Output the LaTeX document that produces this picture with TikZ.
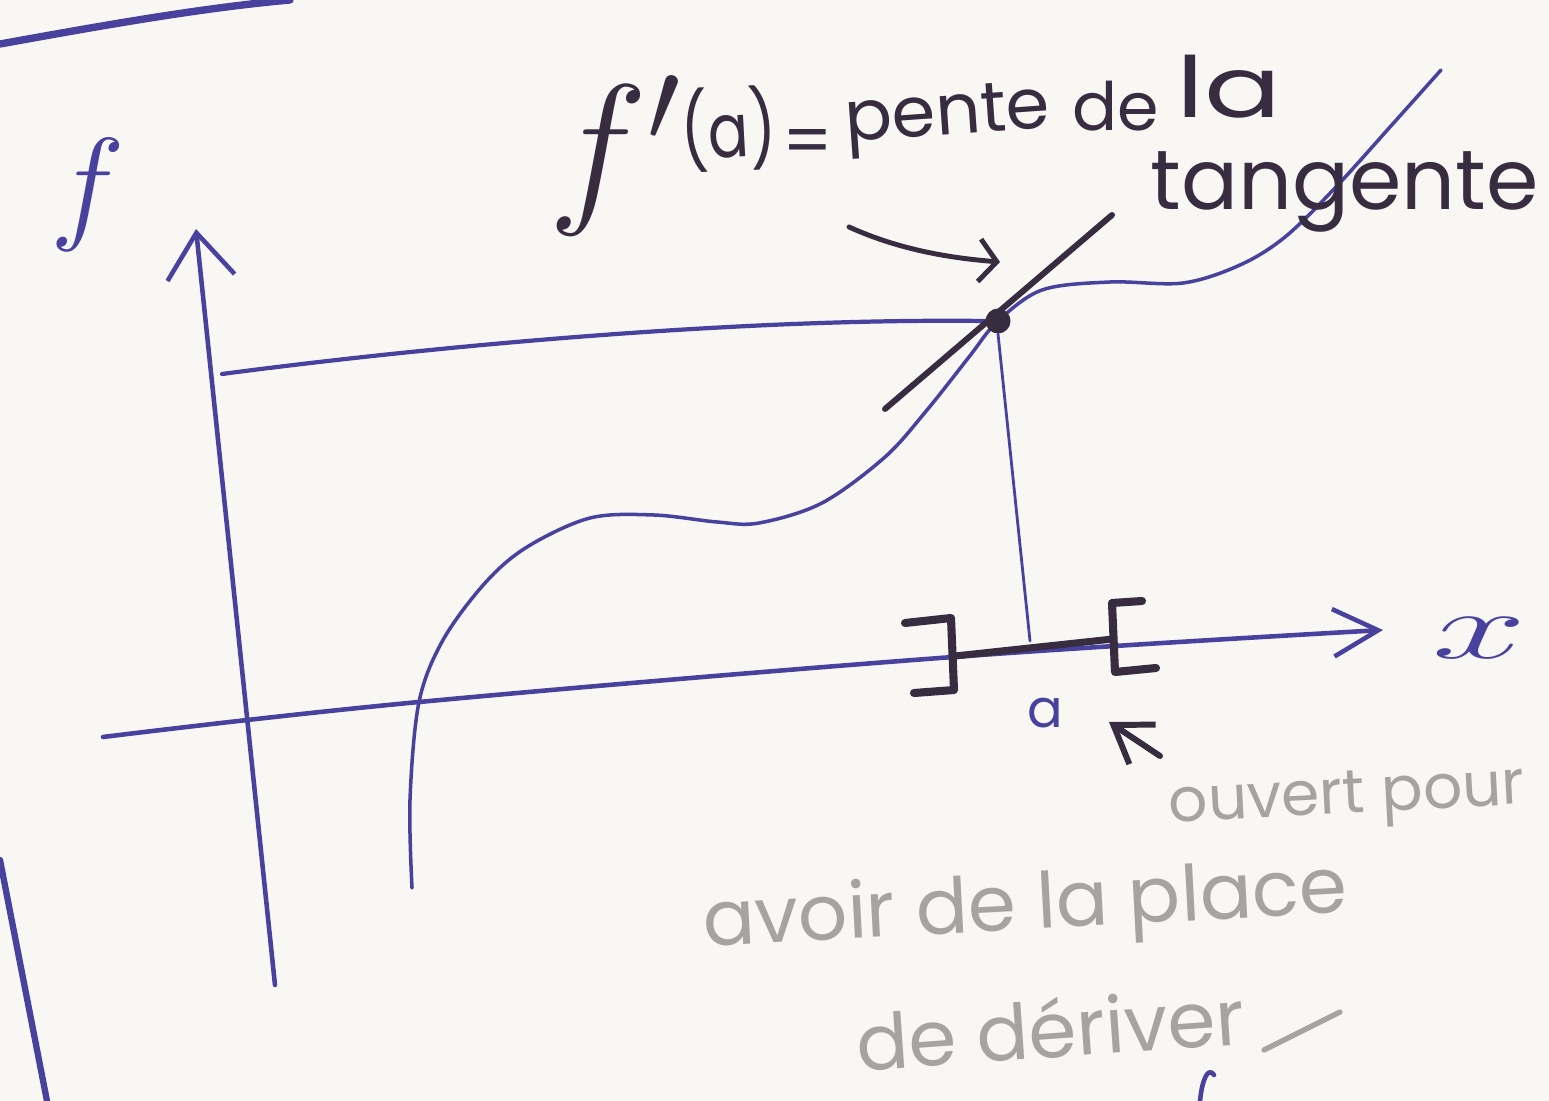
\documentclass[tikz,border=0pt]{standalone}
\usepackage{fix-cm}
\usepackage{fontspec}
\setmainfont{Poppins}
\usetikzlibrary{arrows.meta}
\definecolor{ink}{RGB}{72,66,158}
\definecolor{dark}{RGB}{55,44,64}
\definecolor{pencil}{RGB}{165,164,162}
\definecolor{board}{RGB}{248,247,244}
\begin{document}
\begin{tikzpicture}[x=0.02cm, y=-0.02cm, line cap=round, line join=round,
  inkln/.style={draw=ink, line width=2.6pt},
  inkthin/.style={draw=ink, line width=1.6pt},
  darkln/.style={draw=dark, line width=3.4pt},
  bracketln/.style={draw=dark, line width=4.6pt},
  pencilln/.style={draw=pencil, line width=3pt},
  inktext/.style={text=ink, inner sep=0pt},
  darktext/.style={text=dark, inner sep=0pt},
  titletext/.style={text=dark, inner sep=0pt, anchor=base west, font=\fontsize{40}{40}\selectfont},
  penciltext/.style={text=pencil, inner sep=0pt}]
\fill[board] (0,0) rectangle (1549,1101);
\useasboundingbox (0,0) rectangle (1549,1101);

% board edge strokes
\coordinate (tlA) at (0,44);
\coordinate (tlB) at (290,0);
\draw[inkln, line width=4.2pt] (tlA) .. controls (100,26) and (200,8) .. (tlB);
\coordinate (blA) at (0,860);
\coordinate (blB) at (47,1101);
\draw[inkln, line width=3.6pt] (blA) -- (blB);

% axes
\coordinate (ybot) at (275,985);
\coordinate (ytop) at (196,229);
\draw[inkln, -{Straight Barb[length=0.9cm, width=1.35cm, line width=2.6pt]}] (ybot) -- (ytop);
\node[inktext, font=\fontsize{72}{72}\selectfont] (flab) at (88,195) {$f$};

\coordinate (xbeg) at (103,737);
\coordinate (xm1) at (419,702);
\coordinate (xm2) at (953,657);
\coordinate (xtip) at (1383,630);
\draw[inkln, -{Straight Barb[length=0.9cm, width=0.95cm, line width=2.6pt]}]
  plot[smooth, tension=0.6] coordinates {(xbeg) (xm1) (xm2) (xtip)};
\node[inktext, font=\fontsize{60}{60}\selectfont] (xlab) at (1479,638) {\scalebox{1.6}[0.9]{$x$}};

% function curve
\draw[inkthin, line width=2pt] plot[smooth, tension=0.55] coordinates {
  (412,888) (410,800) (419,702) (443,640) (485,583) (527,547) (590,518)
  (654,515) (717,522) (759,523) (822,503) (885,457) (927,410) (969,357)
  (997,322) (1042,290) (1110,282) (1183,283) (1240,265) (1285,237)
  (1335,188) (1390,127) (1441,70)};

% point, level line and projection
\coordinate (hlA) at (222,374);
\node[circle, fill=dark, inner sep=0pt, minimum size=0.5cm] (pt) at (998,321) {};
\draw[inkln, line width=2.4pt] (hlA) .. controls (450,344) and (750,318) .. (pt.west);
\coordinate (afoot) at (1030,641);
\draw[inkthin] (pt.south) -- (afoot);

% tangent
\coordinate (tgA) at (885,409);
\coordinate (tgB) at (1112,215);
\draw[darkln] (tgA) -- (tgB);

% interval ]a[
\coordinate (ivA) at (955,656);
\coordinate (ivB) at (1113,639);
\draw[darkln, line width=4pt] (ivA) -- (ivB);
\draw[bracketln] (905,623) -- (951,618) -- (954,690) -- (914,693);
\draw[bracketln] (1142,601) -- (1112,603) -- (1115,672) -- (1156,668);
\node[inktext, font=\fontsize{30}{30}\selectfont] (alab) at (1045,713) {a};

% pointer to the open bracket
\coordinate (opTail) at (1160,756);
\coordinate (opTip) at (1109,722);
\draw[darkln, -{Straight Barb[length=0.7cm, width=0.95cm, line width=3.4pt]}] (opTail) -- (opTip);

% gray notes
\node[penciltext, rotate=3, font=\fontsize{35}{35}\selectfont] (n1) at (1347,800) {ouvert pour};
\node[penciltext, rotate=3, font=\fontsize{44}{44}\selectfont] (n2) at (1025,910) {avoir de la place};
\node[penciltext, rotate=4, font=\fontsize{44}{44}\selectfont] (n3) at (1050,1028) {de dériver};
\coordinate (dashA) at (1264,1050);
\coordinate (dashB) at (1340,1012);
\draw[pencilln] (dashA) -- (dashB);

% bottom cut-off blue stroke
\coordinate (cutA) at (1200,1101);
\coordinate (cutB) at (1214,1075);
\draw[inkln] (cutA) .. controls (1202,1080) and (1208,1066) .. (cutB);

% title
\node[darktext, anchor=base west, font=\fontsize{96}{96}\selectfont] (tF) at (548,203) {$f'$};
\node[titletext, rotate=3, font=\fontsize{43}{43}\selectfont] (tA) at (682,160) {\scalebox{0.8}[1]{(a)}};
\node[darktext, font=\fontsize{40}{40}\selectfont] (tEq) at (808,148) {=};
\node[titletext, rotate=4] (tP) at (846,142) {pente};
\node[titletext, font=\fontsize{38}{38}\selectfont] (tD) at (1072,131) {de};
\node[titletext, font=\fontsize{48}{48}\selectfont] (tL) at (1176,118) {\scalebox{1.35}[1]{la}};
\node[darktext, anchor=base west, font=\fontsize{48}{48}\selectfont] (tT) at (1150,210) {tangente};

% arrow from title to the point
\coordinate (arA) at (849,227);
\coordinate (arB) at (1000,262);
\draw[dark, line width=2.8pt, -{Straight Barb[length=0.35cm, width=0.85cm, line width=2.8pt]}]
  (arA) .. controls (900,250) and (950,258) .. (arB);
\end{tikzpicture}
\end{document}
